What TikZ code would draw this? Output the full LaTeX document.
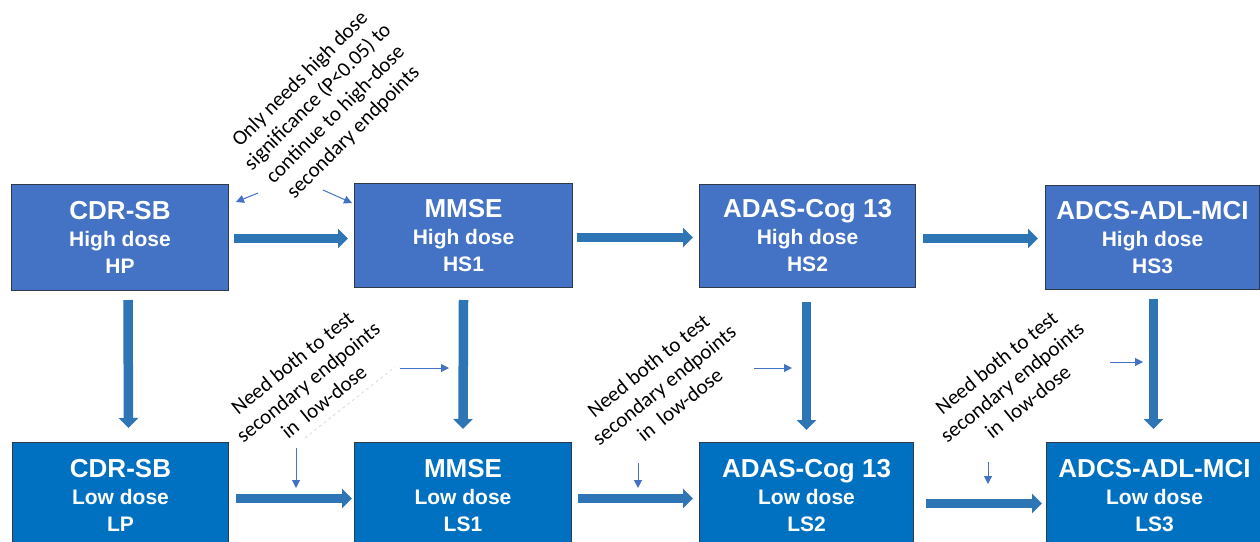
\documentclass[tikz,border=0pt]{standalone}
\usepackage{fontspec}
\setmainfont{Liberation Sans}
\newfontfamily\annotfont{Carlito}
\usetikzlibrary{arrows.meta,calc}
\definecolor{topblue}{HTML}{4472C4}
\definecolor{lowblue}{HTML}{0070C0}
\definecolor{arrowblue}{HTML}{2E75B6}
\definecolor{thinblue}{HTML}{4472C4}
\definecolor{edgegray}{HTML}{2F3A48}
\tikzset{
  hibox/.style={draw=edgegray, line width=1pt, fill=topblue, text=white, anchor=north west,
    minimum height=104pt, inner sep=0pt, align=center, font=\bfseries\fontsize{21}{27}\selectfont},
  lobox/.style={draw=edgegray, line width=1pt, fill=lowblue, text=white, anchor=north west,
    minimum height=106pt, inner sep=0pt, align=center, font=\bfseries\fontsize{21}{27}\selectfont},
  bigarrow/.style={draw=arrowblue, line width=9.5pt, -{Triangle[length=10pt,width=19pt]}},
  thinarrow/.style={draw=thinblue, line width=1pt, -{Triangle[length=8pt,width=8pt]}},
  annot/.style={font=\annotfont\fontsize{21}{25}\selectfont, align=center, inner sep=0pt, text=black},
}
\newcommand{\ttl}[1]{{\fontsize{26}{27}\selectfont #1}}
\begin{document}
\begin{tikzpicture}[x=1pt,y=-1pt]
\useasboundingbox (0,0) rectangle (1260,541);
\clip (0,0) rectangle (1260,541);
\fill[white] (0,0) rectangle (1260,541);

% top boxes
\node[hibox, minimum width=217pt, minimum height=106pt] (HP) at (11,184) {\ttl{CDR-SB}\\ High dose\\ HP};
\node[hibox, minimum width=218pt, minimum height=104pt] (HS1) at (354,183) {\ttl{MMSE}\\ High dose\\ HS1};
\node[hibox, minimum width=216pt, minimum height=103pt] (HS2) at (699,184) {\ttl{ADAS-Cog 13}\\ High dose\\ HS2};
\node[hibox, minimum width=214pt, minimum height=104pt] (HS3) at (1045,185) {\ttl{ADCS-ADL-MCI}\\ High dose\\ HS3};

% bottom boxes
\node[lobox, minimum width=216pt] (LP) at (12,442) {\ttl{CDR-SB}\\ Low dose\\ LP};
\node[lobox, minimum width=217pt] (LS1) at (354,442) {\ttl{MMSE}\\ Low dose\\ LS1};
\node[lobox, minimum width=214pt] (LS2) at (699,442) {\ttl{ADAS-Cog 13}\\ Low dose\\ LS2};
\node[lobox, minimum width=216pt] (LS3) at (1046,442) {\ttl{ADCS-ADL-MCI}\\ Low dose\\ LS3};

% horizontal thick arrows, top row
\draw[bigarrow] ([xshift=5pt,yshift=-1pt]HP.east) -- ([xshift=-6pt,yshift=-1pt]HP.east -| HS1.west);
\draw[bigarrow] ([xshift=4pt,yshift=-2pt]HS1.east) -- ([xshift=-6pt,yshift=-2pt]HS1.east -| HS2.west);
\draw[bigarrow] ([xshift=7pt,yshift=-2.5pt]HS2.east) -- ([xshift=-7pt,yshift=-2.5pt]HS2.east -| HS3.west);
% horizontal thick arrows, bottom row
\draw[bigarrow] ([xshift=7pt,yshift=-3pt]LP.east) -- ([xshift=-2pt,yshift=-3pt]LP.east -| LS1.west);
\draw[bigarrow] ([xshift=6pt,yshift=-3pt]LS1.east) -- ([xshift=-6pt,yshift=-3pt]LS1.east -| LS2.west);
\draw[bigarrow] ([xshift=12pt,yshift=-8pt]LS2.east) -- ([xshift=-4pt,yshift=-8pt]LS2.east -| LS3.west);
% vertical thick arrows
\draw[bigarrow] ([xshift=8pt,yshift=-9pt]HP.south) -- ([xshift=8pt,yshift=14pt]LP.north);
\draw[bigarrow] ([yshift=-12pt]HS1.south) -- ([yshift=13pt]LS1.north);
\draw[bigarrow] ([xshift=-1pt,yshift=-14pt]HS2.south) -- ([yshift=12pt]LS2.north);
\draw[bigarrow] ([xshift=1pt,yshift=-9pt]HS3.south) -- ([xshift=-1pt,yshift=13pt]LS3.north);

% annotations
\node[annot, rotate=45] (A0) at (327,106) {Only needs high dose\\significance (P<0.05) to\\continue to high-dose\\secondary endpoints};
\node[annot, rotate=39] (A1) at (308,382) {Need both to test\\secondary endpoints\\in~ low-dose};
\node[annot, rotate=39] (A2) at (664,385) {Need both to test\\secondary endpoints\\in~ low-dose};
\node[annot, rotate=39] (A3) at (1012,382) {Need both to test\\secondary endpoints\\in~ low-dose};

% thin arrows (free ends as coordinates)
\coordinate (t1s) at (258,193); \coordinate (t1e) at (236,202);
\coordinate (t2s) at (323,190); \coordinate (t2e) at (352,203);
\draw[thinarrow] (t1s) -- (t1e);
\draw[thinarrow] (t2s) -- (t2e);

\coordinate (m1s) at (400,368); \coordinate (m1e) at (449,368);
\coordinate (m2s) at (754,368); \coordinate (m2e) at (792,368);
\coordinate (m3s) at (1110,362); \coordinate (m3e) at (1143,362);
\draw[thinarrow] (m1s) -- (m1e);
\draw[thinarrow] (m2s) -- (m2e);
\draw[thinarrow] (m3s) -- (m3e);

\coordinate (d1s) at (296,448); \coordinate (d1e) at (296,488);
\coordinate (d2s) at (638,463); \coordinate (d2e) at (638,488);
\coordinate (d3s) at (988,462); \coordinate (d3e) at (988,484);
\draw[thinarrow] (d1s) -- (d1e);
\draw[thinarrow] (d2s) -- (d2e);
\draw[thinarrow] (d3s) -- (d3e);

% faint dashed guide
\coordinate (g1s) at (305,438); \coordinate (g1e) at (395,367);
\draw[gray!35, dashed, line width=0.6pt] (g1s) -- (g1e);
\end{tikzpicture}
\end{document}
